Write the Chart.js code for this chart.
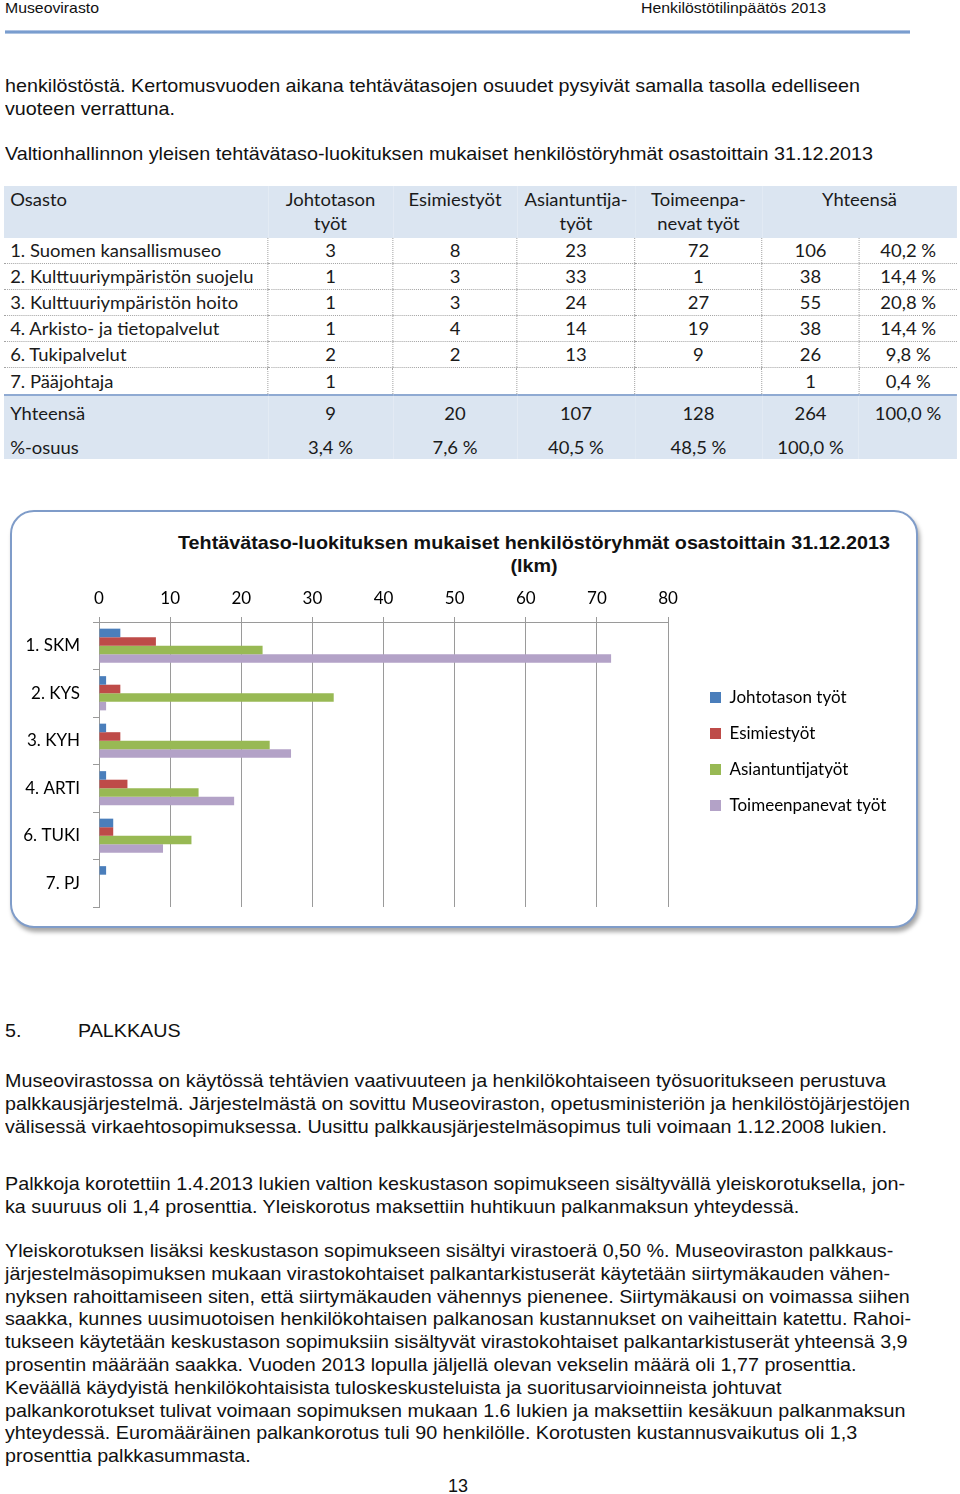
<!DOCTYPE html>
<html lang="fi">
<head>
<meta charset="utf-8">
<title>Henkilöstötilinpäätös 2013</title>
<script src="https://cdn.jsdelivr.net/npm/chart.js@4.4.0/dist/chart.umd.min.js"></script>
<style>
  html, body { margin: 0; padding: 0; background: #fff; }
  #page { position: relative; width: 960px; height: 1494px; overflow: hidden;
          font-family: "Liberation Sans", Arial, sans-serif; color: #111; }
  .abs { position: absolute; white-space: nowrap; transform-origin: 0 0; }
  .hdr { font-size: 15px; line-height: 15px; }
  .txt { font-size: 19px; line-height: 23px; }
  .rule { position: absolute; left: 5px; top: 30px; width: 905px; height: 4px;
          background: linear-gradient(to bottom, #c9d7ec, #5f8ac5 50%, #c9d7ec); }

  #tableWrap { position: absolute; left: 4px; top: 186px; transform-origin: 0 0; }
  table { border-collapse: collapse; table-layout: fixed; font-family: Lato, sans-serif;
          font-size: 18px; color: #1a1a1a; }
  td { padding: 0; text-align: center; white-space: nowrap; }
  td.name { text-align: left; padding-left: 6px; }
  tr.head td { background: #dbe5f1; height: 51px; line-height: 24px; vertical-align: top; padding-top: 1px; }
  tr.data td { height: 25px; line-height: 25px; border-bottom: 1px dotted #a3a3a3; }
  tr.data td + td { border-left: 1px dotted #a3a3a3; }
  tr.data.last td { border-bottom: none; height: 26px; }
  tr.sum td { background: #dbe5f1; height: 34px; line-height: 34px; border-top: 2px solid #8faad2; }
  tr.share td { background: #dbe5f1; height: 29px; line-height: 24px; vertical-align: top; padding-top: 5px; box-sizing: border-box; }

  #chartBox { position: absolute; left: 10px; top: 510px; width: 904px; height: 414px;
              border: 2px solid #7f9cc9; border-radius: 24px; background: #fff;
              box-shadow: 2px 4px 4px rgba(0,0,0,0.35); }
  #chartTitle { position: absolute; left: 534px; top: 531px; font-weight: bold; font-size: 19px;
                line-height: 23px; text-align: center; white-space: nowrap;
                transform-origin: 50% 50%; }
  #chart { position: absolute; left: 12px; top: 580px; }
</style>
</head>
<body>
<div id="page">
  <div class="abs hdr" id="hdrL" style="left:5px; top:0px;">Museovirasto</div>
  <div class="abs hdr" id="hdrR" style="left:641px; top:0px;">Henkilöstötilinpäätös 2013</div>
  <div class="rule"></div>

  <div class="abs txt" id="p0" style="left:5px; top:74px;">henkilöstöstä. Kertomusvuoden aikana tehtävätasojen osuudet pysyivät samalla tasolla edelliseen<br>vuoteen verrattuna.</div>
  <div class="abs txt" id="p1" style="left:5px; top:142px;">Valtionhallinnon yleisen tehtävätaso-luokituksen mukaiset henkilöstöryhmät osastoittain 31.12.2013</div>

  <div id="tableWrap"><table id="tbl">
    <colgroup>
      <col style="width:27.70%"><col style="width:13.12%"><col style="width:13.01%"><col style="width:12.38%">
      <col style="width:13.33%"><col style="width:10.18%"><col style="width:10.28%">
    </colgroup>
    <tbody id="tbody"></tbody>
  </table></div>

  <div id="chartBox"></div>
  <div id="chartTitle">Tehtävätaso-luokituksen mukaiset henkilöstöryhmät osastoittain 31.12.2013<br>(lkm)</div>
  <canvas id="chart" width="900" height="351"></canvas>

  <div class="abs txt" id="h5a" style="left:5px; top:1019px;">5.</div>
  <div class="abs txt" id="h5b" style="left:78px; top:1019px;">PALKKAUS</div>

  <div class="abs txt" id="p2" style="left:5px; top:1069px;">Museovirastossa on käytössä tehtävien vaativuuteen ja henkilökohtaiseen työsuoritukseen perustuva<br>palkkausjärjestelmä. Järjestelmästä on sovittu Museoviraston, opetusministeriön ja henkilöstöjärjestöjen<br>välisessä virkaehtosopimuksessa. Uusittu palkkausjärjestelmäsopimus tuli voimaan 1.12.2008 lukien.</div>
  <div class="abs txt" id="p3" style="left:5px; top:1172px;">Palkkoja korotettiin 1.4.2013 lukien valtion keskustason sopimukseen sisältyvällä yleiskorotuksella, jon-<br>ka suuruus oli 1,4 prosenttia. Yleiskorotus maksettiin huhtikuun palkanmaksun yhteydessä.</div>
  <div class="abs txt" id="p4" style="left:5px; top:1240px; line-height:22.8px;">Yleiskorotuksen lisäksi keskustason sopimukseen sisältyi virastoerä 0,50 %. Museoviraston palkkaus-<br>järjestelmäsopimuksen mukaan virastokohtaiset palkantarkistuserät käytetään siirtymäkauden vähen-<br>nyksen rahoittamiseen siten, että siirtymäkauden vähennys pienenee. Siirtymäkausi on voimassa siihen<br>saakka, kunnes uusimuotoisen henkilökohtaisen palkanosan kustannukset on vaiheittain katettu. Rahoi-<br>tukseen käytetään keskustason sopimuksiin sisältyvät virastokohtaiset palkantarkistuserät yhteensä 3,9<br>prosentin määrään saakka. Vuoden 2013 lopulla jäljellä olevan vekselin määrä oli 1,77 prosenttia.<br>Keväällä käydyistä henkilökohtaisista tuloskeskusteluista ja suoritusarvioinneista johtuvat<br>palkankorotukset tulivat voimaan sopimuksen mukaan 1.6 lukien ja maksettiin kesäkuun palkanmaksun<br>yhteydessä. Euromääräinen palkankorotus tuli 90 henkilölle. Korotusten kustannusvaikutus oli 1,3<br>prosenttia palkkasummasta.</div>
  <div class="abs txt" id="pageNo" style="left:448px; top:1474px;">13</div>
</div>

<script>
// Data
const departments = ['1. Suomen kansallismuseo', '2. Kulttuuriympäristön suojelu', '3. Kulttuuriympäristön hoito',
                     '4. Arkisto- ja tietopalvelut', '6. Tukipalvelut', '7. Pääjohtaja'];
const categories = ['1. SKM', '2. KYS', '3. KYH', '4. ARTI', '6. TUKI', '7. PJ'];
const seriesNames = ['Johtotason työt', 'Esimiestyöt', 'Asiantuntijatyöt', 'Toimeenpanevat työt'];
const johtotaso = [3, 1, 1, 1, 2, 1];
const esimies = [8, 3, 3, 4, 2, null];
const asiantuntija = [23, 33, 24, 14, 13, null];
const toimeenpano = [72, 1, 27, 19, 9, null];
const xMin = 0, xMax = 80, xStep = 10;

const seriesColors = ['#4a7ebb', '#be4b48', '#98b954', '#b3a2c7'];
const series = [johtotaso, esimies, asiantuntija, toimeenpano];

// Squeeze text horizontally to the line widths of the page
function fit(id, target) {
    const el = document.getElementById(id);
    const w = el.getBoundingClientRect().width;
    el.style.transform = 'scaleX(' + (target / w) + ')';
    return target / w;
}
fit('hdrL', 94);
fit('hdrR', 185);
const k = fit('p0', 855);
fit('p1', 868);
fit('p2', 905);
fit('p3', 900);
fit('p4', 906);
fit('pageNo', 20);
document.getElementById('h5a').style.transform = 'scaleX(' + k + ')';
document.getElementById('h5b').style.transform = 'scaleX(' + k + ')';

const title = document.getElementById('chartTitle');
const tw = title.getBoundingClientRect().width;
title.style.transform = 'translateX(-50%) scaleX(' + (712 / tw) + ')';

// Table
const fmt = v => v.toFixed(1).replace('.', ',') + ' %';
const tbody = document.getElementById('tbody');
let html = '<tr class="head"><td class="name">Osasto</td><td>Johtotason<br>työt</td><td>Esimiestyöt</td>' +
           '<td>Asiantuntija-<br>työt</td><td>Toimeenpa-<br>nevat työt</td><td colspan="2">Yhteensä</td></tr>';
const colSums = series.map(s => s.reduce((a, v) => a + (v || 0), 0));
const grand = colSums.reduce((a, v) => a + v, 0);
departments.forEach((d, i) => {
    const vals = series.map(s => s[i]);
    const sum = vals.reduce((a, v) => a + (v || 0), 0);
    html += '<tr class="data' + (i === departments.length - 1 ? ' last' : '') + '"><td class="name">' + d + '</td>' +
            vals.map(v => '<td>' + (v == null ? '' : v) + '</td>').join('') +
            '<td>' + sum + '</td><td>' + fmt(sum / grand * 100) + '</td></tr>';
});
html += '<tr class="sum"><td class="name">Yhteensä</td>' + colSums.map(v => '<td>' + v + '</td>').join('') +
        '<td>' + grand + '</td><td>' + fmt(100) + '</td></tr>';
html += '<tr class="share"><td class="name">%-osuus</td>' + colSums.map(v => '<td>' + fmt(v / grand * 100) + '</td>').join('') +
        '<td>' + fmt(100) + '</td><td></td></tr>';
tbody.innerHTML = html;

const probe = document.createElement('span');
probe.style.cssText = 'font-family:Lato;font-size:18px;position:absolute;visibility:hidden;white-space:nowrap';
probe.textContent = departments[0];
document.body.appendChild(probe);
const kT = 211 / probe.getBoundingClientRect().width;
probe.remove();
document.getElementById('tbl').style.width = (953 / kT) + 'px';
document.getElementById('tableWrap').style.transform = 'scaleX(' + kT + ')';

// Chart
Chart.defaults.font.family = 'Lato';
Chart.defaults.font.size = 17;
Chart.defaults.font.lineHeight = 1.2;
Chart.defaults.color = '#000';

const axisColor = '#9a9a9a';
const measure = document.createElement('canvas').getContext('2d');
measure.font = '17px Lato';
const legendTextW = Math.max(...seriesNames.map(s => measure.measureText(s).width));
// legend box: padding + colour box + half font + text + 10
const legendW = 19 + 11 + 17 / 2 + legendTextW + 10;
const padRight = Math.max(0, 900 - 656 - 23 - legendW);

new Chart(document.getElementById('chart'), {
    type: 'bar',
    data: {
        labels: categories,
        datasets: series.map((d, i) => ({
            label: seriesNames[i],
            data: d,
            backgroundColor: seriesColors[i],
            borderWidth: 0,
            categoryPercentage: 0.72,
            barPercentage: 1.0
        }))
    },
    options: {
        indexAxis: 'y',
        responsive: false,
        animation: false,
        devicePixelRatio: 1,
        layout: { padding: { top: 0, bottom: 24, left: 0, right: padRight } },
        plugins: {
            legend: {
                position: 'right',
                align: 'center',
                maxWidth: 400,
                title: { display: true, text: '', padding: 0, font: { size: 16, lineHeight: 1 } },
                labels: { boxWidth: 11, boxHeight: 11, padding: 19, color: '#000', font: { size: 17 } }
            },
            tooltip: { enabled: false }
        },
        scales: {
            x: {
                position: 'top',
                min: xMin,
                max: xMax,
                ticks: { stepSize: xStep, padding: 8, color: '#000' },
                grid: { color: axisColor, tickLength: 5 },
                border: { color: axisColor },
                afterFit: s => { s.height = 42; }
            },
            y: {
                ticks: { padding: 13, color: '#000' },
                grid: { offset: true, drawOnChartArea: false, tickLength: 6, color: axisColor },
                border: { color: axisColor },
                afterFit: s => { s.width = 87; }
            },
            yGap: {
                type: 'category',
                position: 'right',
                grid: { display: false },
                border: { display: false },
                ticks: { display: false },
                afterFit: s => { s.width = 23; }
            }
        }
    }
});
</script>
</body>
</html>
